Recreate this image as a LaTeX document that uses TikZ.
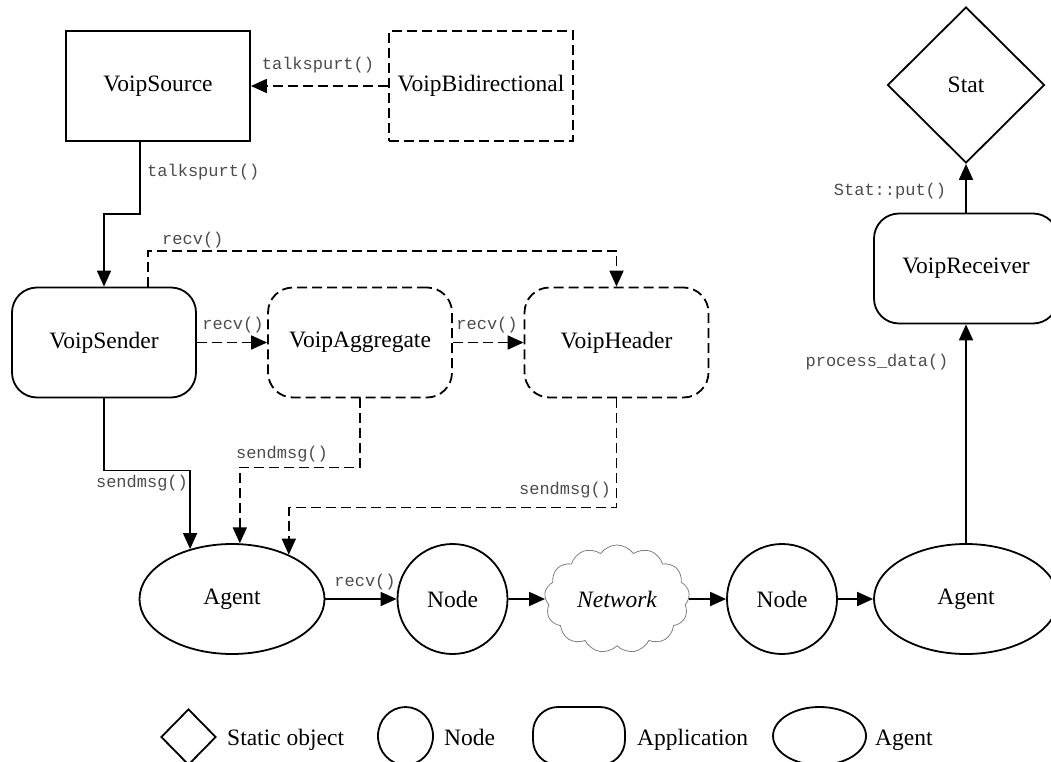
\documentclass[tikz,border=0pt]{standalone}
\usepackage{fontspec}
\setmainfont{Liberation Serif}
\setmonofont{Liberation Mono}
\usetikzlibrary{shapes.geometric,shapes.symbols,arrows.meta}
\begin{document}
\begin{tikzpicture}[x=1pt,y=-1pt,
  every node/.style={font=\fontsize{23.5}{27}\selectfont, inner sep=0pt},
  bx/.style={draw, line width=1.8pt, minimum width=184pt, minimum height=110pt},
  dsh/.style={dash pattern=on 10pt off 5pt},
  app/.style={bx, rounded corners=25pt},
  agt/.style={draw, ellipse, line width=1.8pt, minimum width=185pt, minimum height=110pt},
  nd/.style={draw, ellipse, line width=1.8pt, minimum width=110pt, minimum height=110pt},
  conn/.style={line width=1.8pt, -{Triangle[length=16pt,width=14pt]}},
  lbl/.style={font=\ttfamily\fontsize{17}{20}\selectfont, text=black!70},
  leg/.style={draw, line width=1.8pt, minimum height=58pt},
  legtxt/.style={anchor=base west}
]
\useasboundingbox (0,0) rectangle (1051,762);
% main nodes
\node[bx] (source) at (158,86) {VoipSource};
\node[bx, dsh] (bidir) at (481,86) {VoipBidirectional};
\node[app] (sender) at (104,342.5) {VoipSender};
\node[app, dsh] (aggr) at (360,342.5) {VoipAggregate};
\node[app, dsh] (header) at (616.5,342.5) {VoipHeader};
\node[app] (receiver) at (966,268.5) {VoipReceiver};
\node[draw, diamond, line width=1.8pt, minimum width=157pt, minimum height=156pt] (stat) at (966,85) {Stat};
\node[agt] (agent1) at (232,599) {Agent};
\node[nd] (node1) at (452.5,599) {Node};
\node[cloud, draw=gray, line width=0.8pt, cloud puffs=13, cloud puff arc=110, cloud ignores aspect, minimum width=145pt, minimum height=108pt] (net) at (617,599) {\itshape Network};
\node[nd] (node2) at (782,599) {Node};
\node[agt, minimum width=184pt] (agent2) at (966,599) {Agent};
% connectors
\draw[conn, dsh] (bidir) -- (source);
\node[lbl] (l1) at (318,65) {talkspurt()};
\draw[conn] ([xshift=-18pt]source.south) -- ++(0,72) -| (sender.north);
\node[lbl, anchor=west] (l2) at (147,172) {talkspurt()};
\draw[conn, dsh] ([xshift=44pt]sender.north) -- ++(0,-36) -| (header.north);
\node[lbl, anchor=west] (l3) at (162,240) {recv()};
\draw[conn, dsh] (sender) -- (aggr);
\node[lbl] (l4) at (233,325) {recv()};
\draw[conn, dsh] (aggr) -- (header);
\node[lbl] (l5) at (487,325) {recv()};
\draw[conn] (sender.south) -- ++(0,72) -| (agent1.130.6);
\node[lbl] (l6) at (142,483) {sendmsg()};
\draw[conn, dsh] (aggr.south) -- ++(0,69) -| (agent1.82.7);
\node[lbl] (l7) at (282,454) {sendmsg()};
\draw[conn, dsh] (header.south) -- ++(0,109) -| (agent1.38.8);
\node[lbl] (l8) at (565,490) {sendmsg()};
\draw[conn] (agent1) -- (node1);
\node[lbl] (l9) at (365,582) {recv()};
\draw[conn] (node1) -- (net);
\draw[conn] (net) -- (node2);
\draw[conn] (node2) -- (agent2);
\draw[conn] (agent2.north) -- (receiver.south);
\node[lbl] (l10) at (877,362) {process\_data()};
\draw[conn] (receiver.north) -- (stat.south);
\node[lbl] (l11) at (890,191) {Stat::put()};
% legend
\node[leg, diamond, minimum width=55pt, minimum height=56pt] (lgdia) at (188.5,737) {};
\node[legtxt] (lgt1) at (227,745) {Static object};
\node[leg, ellipse, minimum width=55pt] (lgnode) at (405.5,736) {};
\node[legtxt] (lgt2) at (444,745) {Node};
\node[leg, rounded corners=25pt, minimum width=92pt] (lgapp) at (579,736) {};
\node[legtxt] (lgt3) at (637,745) {Application};
\node[leg, ellipse, minimum width=93pt] (lgagt) at (819.5,736) {};
\node[legtxt] (lgt4) at (875,745) {Agent};
\end{tikzpicture}
\end{document}
